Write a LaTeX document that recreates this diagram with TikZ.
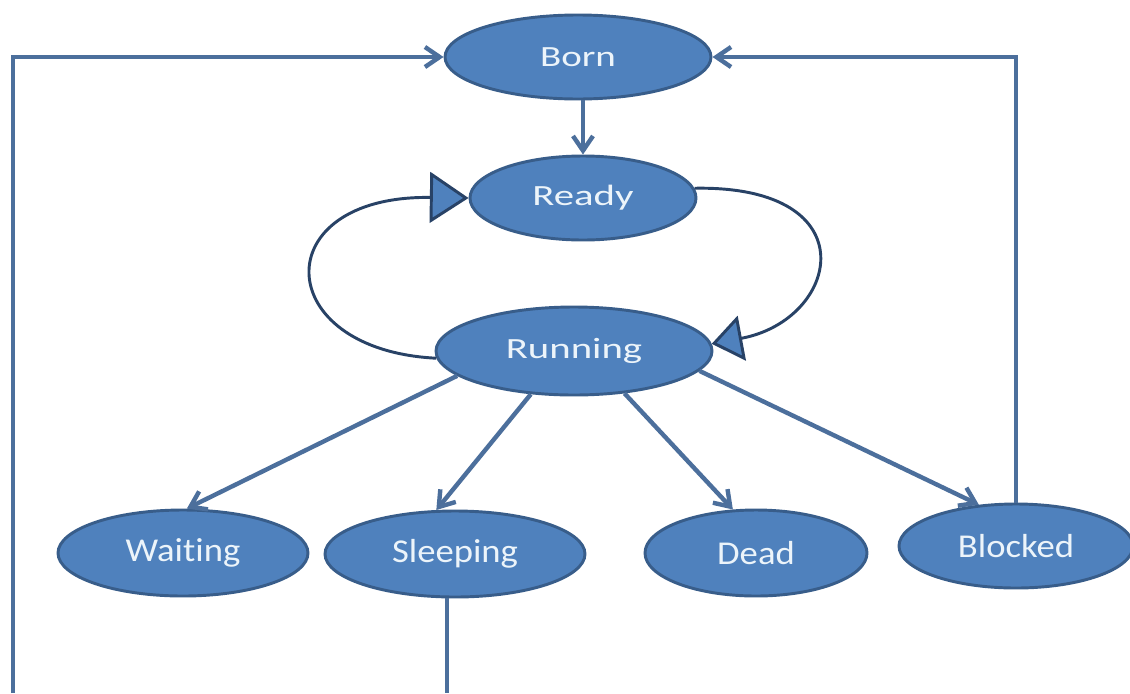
\documentclass[tikz,border=0pt]{standalone}
\usepackage{fontspec}
\usepackage{graphicx}
\setmainfont{Carlito}[Ligatures=NoCommon]
\usetikzlibrary{arrows.meta,shapes.geometric,calc}
\definecolor{nodefill}{RGB}{79,129,189}
\definecolor{nodeborder}{RGB}{56,93,138}
\definecolor{conncol}{RGB}{76,111,156}
\definecolor{loopcol}{RGB}{40,66,102}
\definecolor{textcol}{RGB}{236,244,250}
\begin{document}
\begin{tikzpicture}[x=0.75pt,y=-0.75pt,
  state/.style={ellipse, fill=nodefill, draw=nodeborder, line width=2.2pt,
    inner sep=0pt, text=textcol},
  topstate/.style={state, font=\fontsize{22}{26}\selectfont},
  botstate/.style={state, font=\fontsize{25}{30}\selectfont},
  conn/.style={draw=conncol, line width=3.3pt,
    -{Straight Barb[length=11pt,width=15pt]}},
  plainconn/.style={draw=conncol, line width=3.3pt},
  loopconn/.style={draw=loopcol, line width=2.2pt}]
\useasboundingbox (0,0) rectangle (1130,693);
\fill[white] (0,0) rectangle (1130,693);

\node[topstate, minimum width=199.5pt, minimum height=63pt] (Born) at (578,57) {\scalebox{1.33}[1]{Born}};
\node[topstate, minimum width=169.5pt, minimum height=63pt] (Ready) at (583,198) {\scalebox{1.39}[1]{Ready}};
\node[topstate, minimum width=207pt, minimum height=66pt] (Running) at (574,351) {\scalebox{1.39}[1]{Running}};
\node[botstate, minimum width=187.5pt, minimum height=64.5pt] (Waiting) at (183,553) {\scalebox{1.1}[1]{Waiting}};
\node[botstate, minimum width=195pt, minimum height=64.5pt] (Sleeping) at (455,554) {\scalebox{1.1}[1]{Sleeping}};
\node[botstate, minimum width=166.5pt, minimum height=64.5pt] (Dead) at (756,553) {\scalebox{1.1}[1]{Dead}};
\node[botstate, minimum width=175.5pt, minimum height=63pt] (Blocked) at (1016,546) {\scalebox{1.1}[1]{Blocked}};

\coordinate (bl) at (13,693);
\coordinate (sl) at (447,693);

% top connectors
\draw[conn] (Born.south -| Ready.north) -- (Ready.north);
\draw[conn] (bl) |- (Born.west);
\draw[conn] (Blocked.north) |- (Born.east);
\draw[plainconn] (Sleeping.south -| sl) -- (sl);

% loops
\draw[loopconn, -{Triangle[length=29pt,width=38pt,fill=nodefill]}]
  (Running.183) .. controls (270,350) and (265,195) .. (Ready.west);
\draw[loopconn, -{Triangle[length=23pt,width=34pt,fill=nodefill]}]
  (Ready.5) .. controls (870,185) and (840,320) .. (Running.3);

% Running to bottom states
\draw[conn] (Running.192) -- (Waiting.85);
\draw[conn] (Running.225) -- (Sleeping.113);
\draw[conn] (Running.320) -- (Dead.118);
\draw[conn] (Running.351) -- (Blocked.132);
\end{tikzpicture}
\end{document}
